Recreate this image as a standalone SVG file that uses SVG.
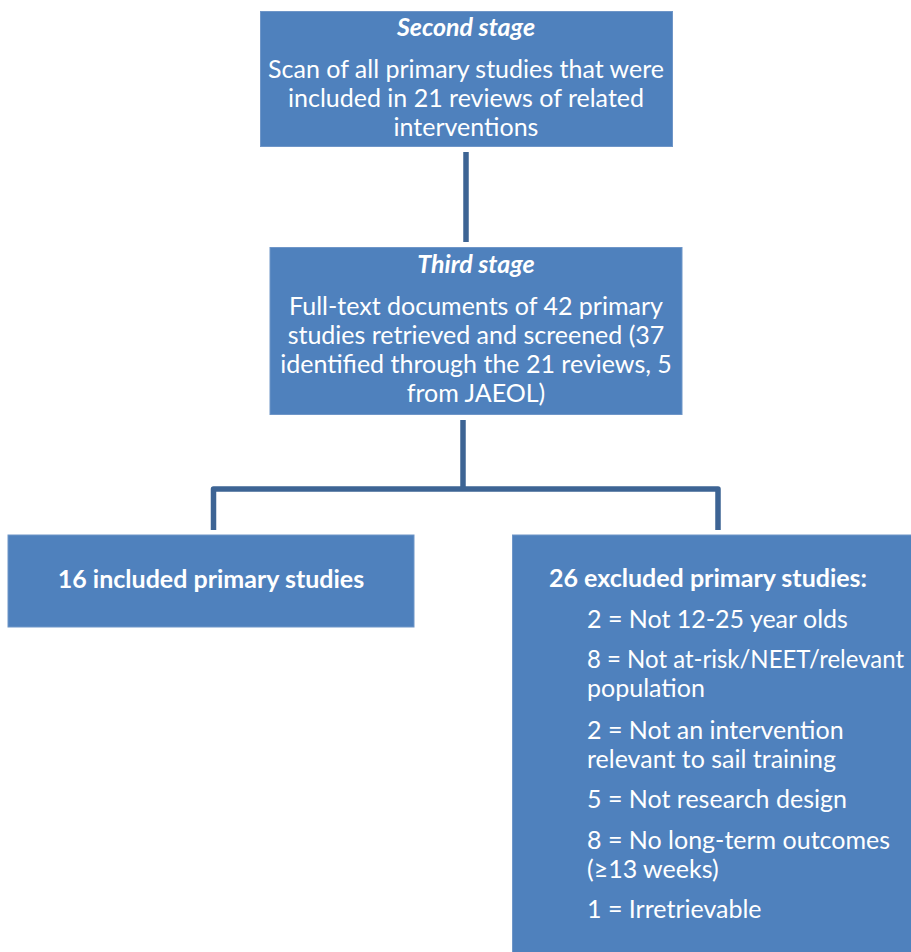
<svg xmlns="http://www.w3.org/2000/svg" width="911" height="952" viewBox="0 0 911 952">
<style>
.box{fill:#4f81bd;stroke:#6f96c8;stroke-width:1}
.conn{fill:none;stroke:#3d6494;stroke-width:5.5;stroke-linejoin:round}
text{font-family:Lato,"Liberation Sans",sans-serif;font-size:25px;fill:#ffffff}
.c{text-anchor:middle}
.bi{font-weight:bold;font-style:italic}
.b{font-weight:bold}
</style>
<rect width="911" height="952" fill="#ffffff"/>
<g id="connectors">
<line class="conn" x1="466" y1="152" x2="466" y2="242"/>
<line class="conn" x1="463" y1="420" x2="463" y2="489"/>
<path class="conn" d="M213.5,530 V489 H718 V530"/>
</g>
<g id="second-stage">
<rect class="box" x="260.5" y="11.5" width="412" height="135"/>
<text class="c bi" x="466" y="36">Second stage</text>
<text class="c" x="466" y="78">Scan of all primary studies that were</text>
<text class="c" x="466" y="107">included in 21 reviews of related</text>
<text class="c" x="466" y="136">interventions</text>
</g>
<g id="third-stage">
<rect class="box" x="270" y="247.5" width="412" height="167"/>
<text class="c bi" x="476" y="273">Third stage</text>
<text class="c" x="476" y="315">Full-text documents of 42 primary</text>
<text class="c" x="476" y="344">studies retrieved and screened (37</text>
<text class="c" x="476" y="373">identified through the 21 reviews, 5</text>
<text class="c" x="476" y="402">from JAEOL)</text>
</g>
<g id="included">
<rect class="box" x="8" y="535" width="406" height="92"/>
<text class="c b" x="211" y="588">16 included primary studies</text>
</g>
<g id="excluded">
<rect class="box" x="512.5" y="535" width="400" height="420"/>
<text class="b" x="549" y="587">26 excluded primary studies:</text>
<text x="587" y="628">2 = Not 12-25 year olds</text>
<text x="587" y="668" textLength="317" lengthAdjust="spacingAndGlyphs">8 = Not at-risk/NEET/relevant</text>
<text x="587" y="697">population</text>
<text x="587" y="739">2 = Not an intervention</text>
<text x="587" y="768">relevant to sail training</text>
<text x="587" y="808">5 = Not research design</text>
<text x="587" y="849">8 = No long-term outcomes</text>
<text x="587" y="878">(≥13 weeks)</text>
<text x="587" y="918">1 = Irretrievable</text>
</g>
</svg>
